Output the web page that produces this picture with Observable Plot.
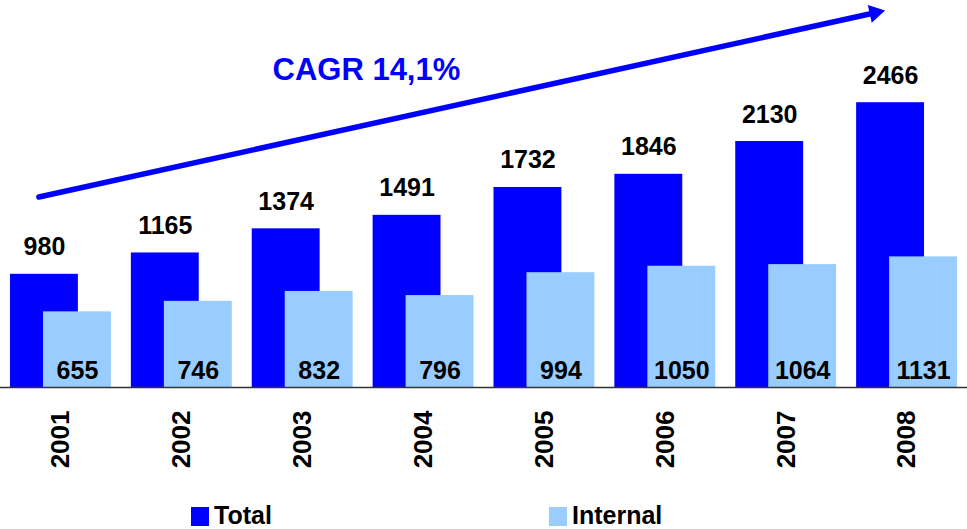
<!DOCTYPE html>
<html>
<head>
<meta charset="utf-8">
<script src="https://cdn.jsdelivr.net/npm/d3@7"></script>
<script src="https://cdn.jsdelivr.net/npm/@observablehq/plot@0.6"></script>
<style>
  html, body { margin: 0; padding: 0; background: #fff; }
  body { width: 967px; height: 529px; overflow: hidden; font-family: Arial, "Liberation Sans", sans-serif; }
  #chart { position: relative; width: 967px; height: 495px; }
  #legend { position: relative; width: 967px; height: 34px; }
  .item { position: absolute; top: 0; display: flex; align-items: center; height: 34px; font-weight: bold; font-size: 25px; color: #000; }
  .sw { width: 18px; height: 19px; margin-right: 5px; margin-top: 8px; }
  .lbl { margin-top: 6px; }
</style>
</head>
<body>
<div id="chart"></div>
<div id="legend"></div>
<script>
// ---- data ----
const years = ["2001", "2002", "2003", "2004", "2005", "2006", "2007", "2008"];
const totalValues = [980, 1165, 1374, 1491, 1732, 1846, 2130, 2466];
const internalValues = [655, 746, 832, 796, 994, 1050, 1064, 1131];
const seriesNames = ["Total", "Internal"];
const seriesColors = ["#0000FF", "#99CCFF"];
const cagrLabel = "CAGR 14,1%";
// annotation arrow: from the first year to the last year (values on the y scale)
const cagrArrow = [{from: "2001", to: "2008", startValue: 1649, endValue: 3264}];

const rows = years.map((year, i) => ({year, total: totalValues[i], internal: internalValues[i]}));

const font = 'Arial, "Liberation Sans", sans-serif';

const chart = Plot.plot({
  width: 967,
  height: 495,
  marginTop: 0,
  marginLeft: 0,
  marginRight: 0,
  marginBottom: 108,
  style: {fontFamily: font, color: "#000", background: "#fff", overflow: "visible"},
  x: {domain: years, paddingInner: 0.1653, paddingOuter: 0.0826, round: false, label: null},
  y: {domain: [0, 3351], axis: null},
  marks: [
    Plot.barY(rows, {x: "year", y: "total", fill: seriesColors[0], insetRight: 33}),
    Plot.barY(rows, {x: "year", y: "internal", fill: seriesColors[1], insetLeft: 33}),
    Plot.ruleY([0], {stroke: "#333", strokeWidth: 1.5}),
    Plot.axisX({tickRotate: -90, tickSize: 0, tickPadding: 23, fontSize: 26, fontWeight: "bold", fill: "#000", label: null}),
    Plot.text(rows, {x: "year", y: "total", text: d => String(d.total), dx: -16.5, dy: -19, lineAnchor: "bottom", fontSize: 25, fontWeight: "bold", fill: "#000"}),
    Plot.text(rows, {x: "year", frameAnchor: "bottom", text: d => String(d.internal), dx: 16.5, dy: -9, lineAnchor: "bottom", fontSize: 25, fontWeight: "bold", fill: "#000"}),
    Plot.arrow(cagrArrow, {x1: "from", y1: "startValue", x2: "to", y2: "endValue", stroke: seriesColors[0], strokeWidth: 5.5, headLength: 0, insetEnd: 9, dx: -22}),
    Plot.dot(cagrArrow, {x: "to", y: "endValue", symbol: "triangle", r: 6.7, fill: seriesColors[0], stroke: "none", rotate: 77.6, dx: -32.2, dy: 2.2}),
    Plot.text([cagrLabel], {frameAnchor: "top-left", text: d => d, dx: 272, dy: 57, lineAnchor: "top", fontSize: 31, fontWeight: "bold", fill: seriesColors[0]})
  ]
});
document.getElementById("chart").appendChild(chart);

// legend
const legend = document.getElementById("legend");
const legendLeft = [191, 549];
seriesNames.forEach((name, i) => {
  const item = document.createElement("div");
  item.className = "item";
  item.style.left = legendLeft[i] + "px";
  const sw = document.createElement("div");
  sw.className = "sw";
  sw.style.background = seriesColors[i];
  const lbl = document.createElement("span");
  lbl.className = "lbl";
  lbl.textContent = name;
  item.appendChild(sw);
  item.appendChild(lbl);
  legend.appendChild(item);
});
</script>
</body>
</html>
